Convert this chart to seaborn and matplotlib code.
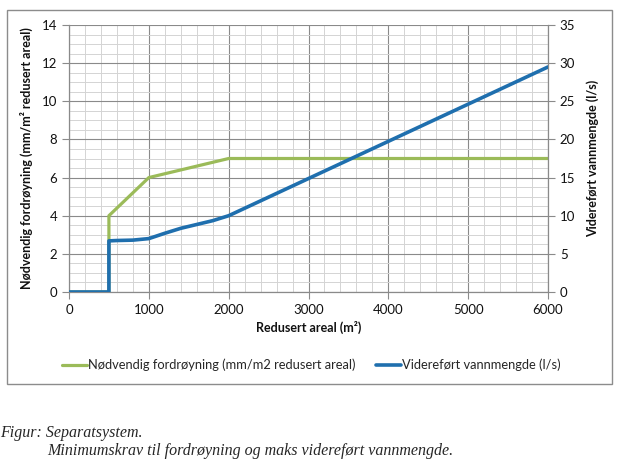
import matplotlib
matplotlib.use("Agg")
import matplotlib.pyplot as plt
import seaborn as sns
import pandas as pd
from matplotlib.patches import Rectangle
from matplotlib.lines import Line2D
from matplotlib.ticker import MultipleLocator

# Data
areal_green = [0, 500, 500, 1000, 2000, 6000]
fordroyning = [0, 0, 4.0, 6.0, 7.0, 7.0]

areal_blue = [0, 500, 500, 600, 800, 1000, 1200, 1400, 1600, 1800, 2000, 6000]
vannmengde = [0, 0, 6.7, 6.75, 6.8, 7.0, 7.7, 8.35, 8.85, 9.35, 10.0, 29.5]

x_ticks = [0, 1000, 2000, 3000, 4000, 5000, 6000]
left_ticks = [0, 2, 4, 6, 8, 10, 12, 14]
right_ticks = [0, 5, 10, 15, 20, 25, 30, 35]

label_green = "Nødvendig fordrøyning (mm/m2 redusert areal)"
label_blue = "Videreført vannmengde (l/s)"

sns.set_theme(style="white")
plt.rcParams['font.family'] = ['Lato', 'DejaVu Sans']

GREEN = "#9BBB59"
BLUE = "#1F6FAE"

fig = plt.figure(figsize=(6.17, 4.62), dpi=100)
ax = fig.add_axes([69/617, 1-292/462, (548-69)/617, (292-25)/462])
ax2 = ax.twinx()

df_g = pd.DataFrame({"x": areal_green, "y": fordroyning})
df_b = pd.DataFrame({"x": areal_blue, "y": vannmengde})

sns.lineplot(data=df_g, x="x", y="y", ax=ax, color=GREEN, linewidth=2.3,
             estimator=None, sort=False, zorder=3)
sns.lineplot(data=df_b, x="x", y="y", ax=ax2, color=BLUE, linewidth=2.6,
             estimator=None, sort=False, zorder=3)

ax.set_xlim(0, 6000)
ax.set_ylim(0, 14)
ax2.set_ylim(0, 35)
ax.set_xticks(x_ticks)
ax.set_yticks(left_ticks)
ax2.set_yticks(right_ticks)
ax.xaxis.set_minor_locator(MultipleLocator(200))
ax.yaxis.set_minor_locator(MultipleLocator(0.5))

ax.grid(which="major", color="#8a8a8a", linewidth=0.8)
ax.grid(which="minor", color="#d4d4d4", linewidth=0.7)
ax.set_axisbelow(True)
ax2.grid(False)

for a in (ax, ax2):
    for s in a.spines.values():
        s.set_visible(False)
ax.spines["left"].set_visible(True)
ax.spines["bottom"].set_visible(True)
ax2.spines["right"].set_visible(True)
for s in (ax.spines["left"], ax.spines["bottom"], ax2.spines["right"]):
    s.set_color("#8a8a8a")
    s.set_linewidth(0.9)

ax.tick_params(axis="both", which="major", labelsize=9.5, colors="#8a8a8a",
               labelcolor="#111111", length=5, width=0.8, direction="out",
               left=True, bottom=True)
ax.tick_params(axis="both", which="minor", length=0)
ax2.tick_params(axis="y", labelsize=9.5, colors="#8a8a8a", labelcolor="#111111",
                length=5, width=0.8, direction="out", right=True)

ax.set_xlabel("Redusert areal (m²)", fontsize=9, fontweight="bold", color="#111111", labelpad=4)
ax.set_ylabel("Nødvendig fordrøyning (mm/m² redusert areal)", fontsize=9,
              fontweight="bold", color="#111111", labelpad=6)
ax2.set_ylabel("Videreført vannmengde (l/s)", fontsize=9, fontweight="bold",
               color="#111111", labelpad=8)

# Outer chart frame
fig.patches.append(Rectangle((7/617, 1-384/462), 605/617, 374/462,
                             transform=fig.transFigure, fill=False,
                             edgecolor="#8c8c8c", linewidth=1.0))

leg_kw = dict(frameon=False, loc="center left", fontsize=9.3, handlelength=1.95,
              handletextpad=0.1, borderpad=0, borderaxespad=0)
fig.legend([Line2D([], [], color=GREEN, linewidth=2.3)], [label_green],
           bbox_to_anchor=(62/617, 1-365/462), **leg_kw)
fig.legend([Line2D([], [], color=BLUE, linewidth=2.6)], [label_blue],
           bbox_to_anchor=(376/617, 1-365/462), **leg_kw)

fig.text(0.0, 1-433/462, "Figur: Separatsystem.", family="Liberation Serif",
         style="italic", fontsize=11.5, va="center", ha="left")
fig.text(47/617, 1-451/462, "Minimumskrav til fordrøyning og maks videreført vannmengde.",
         family="Liberation Serif", style="italic", fontsize=11.5, va="center", ha="left")

fig.savefig("out.png", dpi=100)
